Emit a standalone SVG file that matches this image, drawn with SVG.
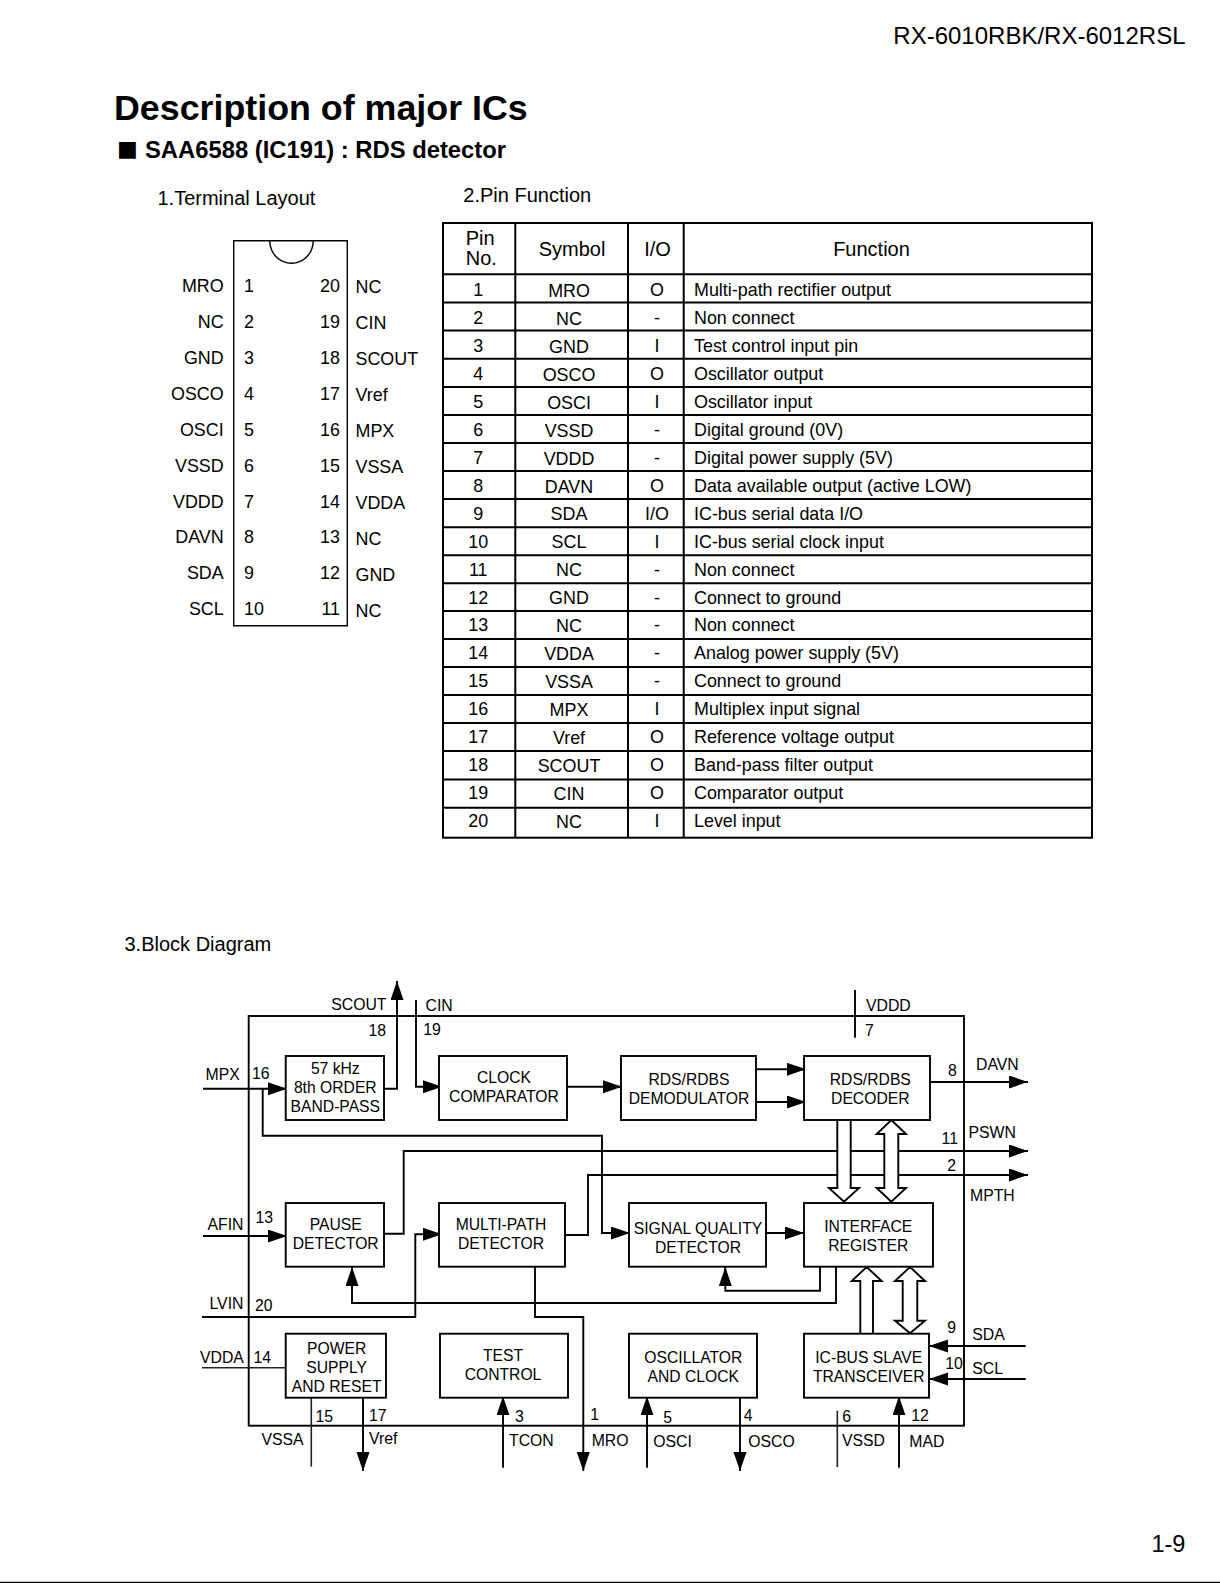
<svg xmlns="http://www.w3.org/2000/svg" width="1220" height="1583" viewBox="0 0 1220 1583">
<style>
text{font-family:"Liberation Sans",Arial,sans-serif;fill:#000}
.t{font-size:17.9px}.h{font-size:20px}.b{font-size:15.7px;text-anchor:middle}.l{font-size:15.8px}
.m{text-anchor:middle}.e{text-anchor:end}
.box{fill:#fff;stroke:#000;stroke-width:1.9}
.c{fill:none;stroke:#000;stroke-width:1.9}
.a{marker-end:url(#ah)}
.thin{fill:none;stroke:#222;stroke-width:1.6}
.hol{fill:#fff;stroke:#000;stroke-width:1.9}
.tl{stroke:#000;stroke-width:2;fill:none}
</style>
<defs>
<marker id="ah" markerUnits="userSpaceOnUse" markerWidth="20" markerHeight="14" refX="19" refY="6.5" orient="auto"><path d="M0,0L19,6.5L0,13z" fill="#000"/></marker>
</defs>
<rect width="1220" height="1583" fill="#fff"/>

<g id="page-text">
<text x="1185.5" y="44.4" class="e" font-size="24">RX-6010RBK/RX-6012RSL</text>
<text x="114" y="120" font-size="35.8" font-weight="bold">Description of major ICs</text>
<text x="117" y="156.2" font-size="22" style="font-family:'DejaVu Sans',sans-serif">■</text>
<text x="145" y="158" font-size="23.8" font-weight="bold">SAA6588 (IC191) : RDS detector</text>
<text x="157.5" y="205" class="h">1.Terminal Layout</text>
<text x="463.3" y="202" class="h">2.Pin Function</text>
<text x="124.5" y="951" class="h">3.Block Diagram</text>
<text x="1185.5" y="1551.7" class="e" font-size="23.6">1-9</text>
<line x1="0" y1="1582.4" x2="1220" y2="1582.4" stroke="#000" stroke-width="1.2"/>
</g>

<g id="terminal-layout">
<path d="M233.7,240.7H347.3V625.8H233.7Z" fill="none" stroke="#000" stroke-width="1.4"/>
<path d="M269.7,240.7C270,254 280,263.3 291.5,263.3C303,263.3 313,254 313.3,240.7" fill="none" stroke="#000" stroke-width="1.4"/>
<g class="t">
<text class="e" x="223.7" y="291.7">MRO</text><text class="e" x="223.7" y="328">NC</text><text class="e" x="223.7" y="363.7">GND</text><text class="e" x="223.7" y="399.7">OSCO</text><text class="e" x="223.7" y="435.7">OSCI</text><text class="e" x="223.7" y="471.7">VSSD</text><text class="e" x="223.7" y="507.7">VDDD</text><text class="e" x="223.7" y="543">DAVN</text><text class="e" x="223.7" y="579">SDA</text><text class="e" x="223.7" y="615">SCL</text>
<text x="244" y="291.7">1</text><text x="244" y="328">2</text><text x="244" y="363.7">3</text><text x="244" y="399.7">4</text><text x="244" y="435.7">5</text><text x="244" y="471.7">6</text><text x="244" y="507.7">7</text><text x="244" y="543">8</text><text x="244" y="579">9</text><text x="244" y="615">10</text>
<text class="e" x="340" y="291.7">20</text><text class="e" x="340" y="328">19</text><text class="e" x="340" y="363.7">18</text><text class="e" x="340" y="399.7">17</text><text class="e" x="340" y="435.7">16</text><text class="e" x="340" y="471.7">15</text><text class="e" x="340" y="507.7">14</text><text class="e" x="340" y="543">13</text><text class="e" x="340" y="579">12</text><text class="e" x="340" y="615">11</text>
<text x="355.5" y="293">NC</text><text x="355.5" y="329">CIN</text><text x="355.5" y="365">SCOUT</text><text x="355.5" y="401">Vref</text><text x="355.5" y="437">MPX</text><text x="355.5" y="473">VSSA</text><text x="355.5" y="509">VDDA</text><text x="355.5" y="545">NC</text><text x="355.5" y="581">GND</text><text x="355.5" y="617">NC</text>
</g>
</g>

<g id="pin-table">
<rect x="443" y="223" width="649" height="614.7" class="tl"/>
<path class="tl" d="M515.3,223V837.7M628,223V837.7M683.7,223V837.7"/>
<path class="tl" d="M443,274.2H1092M443,302.4H1092M443,330.6H1092M443,358.8H1092M443,387H1092M443,415H1092M443,443H1092M443,471H1092M443,499H1092M443,527.2H1092M443,555.2H1092M443,583.2H1092M443,611H1092M443,639H1092M443,667H1092M443,695H1092M443,723H1092M443,751H1092M443,779.4H1092M443,807.7H1092"/>
<g class="h">
<text x="465.7" y="245.3">Pin</text><text x="465.7" y="265">No.</text>
<text class="m" x="572" y="256">Symbol</text><text class="m" x="657.5" y="256">I/O</text><text class="m" x="871.5" y="256">Function</text>
</g>
<g class="t">
<g class="m">
<text x="478.3" y="296">1</text><text x="478.3" y="324">2</text><text x="478.3" y="351.9">3</text><text x="478.3" y="379.9">4</text><text x="478.3" y="407.8">5</text><text x="478.3" y="435.8">6</text><text x="478.3" y="463.7">7</text><text x="478.3" y="491.7">8</text><text x="478.3" y="519.6">9</text><text x="478.3" y="547.6">10</text><text x="478.3" y="575.5">11</text><text x="478.3" y="603.5">12</text><text x="478.3" y="631.4">13</text><text x="478.3" y="659.4">14</text><text x="478.3" y="687.3">15</text><text x="478.3" y="715.3">16</text><text x="478.3" y="743.2">17</text><text x="478.3" y="771.2">18</text><text x="478.3" y="799.1">19</text><text x="478.3" y="827">20</text>
<text x="569" y="296.8">MRO</text><text x="569" y="324.8">NC</text><text x="569" y="352.7">GND</text><text x="569" y="380.7">OSCO</text><text x="569" y="408.6">OSCI</text><text x="569" y="436.6">VSSD</text><text x="569" y="464.5">VDDD</text><text x="569" y="492.5">DAVN</text><text x="569" y="520.4">SDA</text><text x="569" y="548.4">SCL</text><text x="569" y="576.3">NC</text><text x="569" y="604.3">GND</text><text x="569" y="632.2">NC</text><text x="569" y="660.2">VDDA</text><text x="569" y="688.1">VSSA</text><text x="569" y="716.1">MPX</text><text x="569" y="744">Vref</text><text x="569" y="772">SCOUT</text><text x="569" y="799.9">CIN</text><text x="569" y="827.8">NC</text>
<text x="657" y="296">O</text><text x="657" y="324">-</text><text x="657" y="351.9">I</text><text x="657" y="379.9">O</text><text x="657" y="407.8">I</text><text x="657" y="435.8">-</text><text x="657" y="463.7">-</text><text x="657" y="491.7">O</text><text x="657" y="519.6">I/O</text><text x="657" y="547.6">I</text><text x="657" y="575.5">-</text><text x="657" y="603.5">-</text><text x="657" y="631.4">-</text><text x="657" y="659.4">-</text><text x="657" y="687.3">-</text><text x="657" y="715.3">I</text><text x="657" y="743.2">O</text><text x="657" y="771.2">O</text><text x="657" y="799.1">O</text><text x="657" y="827">I</text>
</g>
<text x="694" y="296">Multi-path rectifier output</text><text x="694" y="324">Non connect</text><text x="694" y="351.9">Test control input pin</text><text x="694" y="379.9">Oscillator output</text><text x="694" y="407.8">Oscillator input</text><text x="694" y="435.8">Digital ground (0V)</text><text x="694" y="463.7">Digital power supply (5V)</text><text x="694" y="491.7">Data available output (active LOW)</text><text x="694" y="519.6">IC-bus serial data I/O</text><text x="694" y="547.6">IC-bus serial clock input</text><text x="694" y="575.5">Non connect</text><text x="694" y="603.5">Connect to ground</text><text x="694" y="631.4">Non connect</text><text x="694" y="659.4">Analog power supply (5V)</text><text x="694" y="687.3">Connect to ground</text><text x="694" y="715.3">Multiplex input signal</text><text x="694" y="743.2">Reference voltage output</text><text x="694" y="771.2">Band-pass filter output</text><text x="694" y="799.1">Comparator output</text><text x="694" y="827">Level input</text>
</g>
</g>

<rect id="ic-outline" x="248.7" y="1016" width="715.3" height="409.7" fill="none" stroke="#000" stroke-width="1.9"/>

<g id="connectors">
<path class="c a" d="M203,1088.7H287"/>
<path class="c a" d="M262.7,1088.7V1135.7H602V1233H630"/>
<path class="c a" d="M384,1088.7H397V981"/>
<path class="c a" d="M416,1000V1086.7H442"/>
<path class="c a" d="M567,1086.7H622"/>
<path class="c a" d="M756,1069.3H806"/>
<path class="c a" d="M756,1102H806"/>
<path class="c a" d="M930,1082H1028"/>
<path class="c a" d="M384,1233.7H403.7V1151H1028"/>
<path class="c a" d="M565,1235H588V1175H1028"/>
<path class="c a" d="M203,1236H287"/>
<path class="c a" d="M202,1317H415.3V1234.3H442"/>
<path class="c a" d="M836,1267V1303H352V1267"/>
<path class="c a" d="M820,1267V1290.7H725.3V1267"/>
<path class="c a" d="M535,1267V1317H583.3V1471"/>
<path class="c a" d="M766,1233H804"/>
<path class="c" d="M855,990V1037.7"/>
<path class="c a" d="M1025.7,1346H929"/>
<path class="c a" d="M1025.7,1379H929"/>
<path class="thin" d="M202,1367.7H285.7"/>
<path class="thin" d="M311.3,1397.7V1466.7"/>
<path class="c a" d="M363,1397.7V1471"/>
<path class="c a" d="M503,1467.7V1396.3"/>
<path class="c a" d="M647,1467.7V1396.3"/>
<path class="c a" d="M740,1397.7V1471"/>
<path class="thin" d="M837.3,1410.7V1467"/>
<path class="c a" d="M899,1467.7V1396.3"/>
<path class="hol" d="M837.3,1120V1188H829L844,1201.7L859,1188H850.7V1120"/>
<path class="hol" d="M891.3,1120L906,1134H898.3V1188H906L891.3,1201.7L876.7,1188H884.3V1134H876.7Z"/>
<path class="hol" d="M860.3,1333.7V1281H851.7L866.7,1267L881.7,1281H873V1333.7"/>
<path class="hol" d="M910,1267L925,1281H917.3V1320.7H925L910,1333.3L895,1320.7H902.7V1281H895Z"/>
</g>

<g id="node-bandpass"><rect class="box" x="285.7" y="1056" width="98.3" height="64"/><g class="b"><text x="335.3" y="1074.3">57 kHz</text><text x="335.3" y="1093.3">8th ORDER</text><text x="335.3" y="1112.3">BAND-PASS</text></g></g>
<g id="node-clock-comparator"><rect class="box" x="439" y="1056" width="128" height="64"/><g class="b"><text x="504" y="1083.3">CLOCK</text><text x="504" y="1102.3">COMPARATOR</text></g></g>
<g id="node-demodulator"><rect class="box" x="621" y="1056" width="135" height="64"/><g class="b"><text x="689" y="1085.3">RDS/RDBS</text><text x="689" y="1104.3">DEMODULATOR</text></g></g>
<g id="node-decoder"><rect class="box" x="804" y="1056" width="126" height="64"/><g class="b"><text x="870.3" y="1085.3">RDS/RDBS</text><text x="870.3" y="1104.3">DECODER</text></g></g>
<g id="node-pause"><rect class="box" x="285.7" y="1203" width="98.3" height="63.7"/><g class="b"><text x="335.7" y="1230.3">PAUSE</text><text x="335.7" y="1249.3">DETECTOR</text></g></g>
<g id="node-multipath"><rect class="box" x="439" y="1203" width="126" height="63.7"/><g class="b"><text x="501" y="1230.3">MULTI-PATH</text><text x="501" y="1249.3">DETECTOR</text></g></g>
<g id="node-signal-quality"><rect class="box" x="629" y="1203" width="137" height="63.7"/><g class="b"><text x="698" y="1234.3">SIGNAL QUALITY</text><text x="698" y="1253.3">DETECTOR</text></g></g>
<g id="node-interface"><rect class="box" x="804" y="1203" width="129" height="63.7"/><g class="b"><text x="868.3" y="1231.7">INTERFACE</text><text x="868.3" y="1250.7">REGISTER</text></g></g>
<g id="node-power"><rect class="box" x="285.7" y="1333.7" width="100.3" height="64"/><g class="b"><text x="336.7" y="1354.3">POWER</text><text x="336.7" y="1373.3">SUPPLY</text><text x="336.7" y="1392.3">AND RESET</text></g></g>
<g id="node-test"><rect class="box" x="440" y="1333.7" width="128" height="64"/><g class="b"><text x="503" y="1361.3">TEST</text><text x="503" y="1380.3">CONTROL</text></g></g>
<g id="node-oscillator"><rect class="box" x="629" y="1333.7" width="128" height="64"/><g class="b"><text x="693.3" y="1363.3">OSCILLATOR</text><text x="693.3" y="1382.3">AND CLOCK</text></g></g>
<g id="node-icbus"><rect class="box" x="804" y="1333.7" width="125" height="64"/><g class="b"><text x="868.7" y="1363.3">IC-BUS SLAVE</text><text x="868.7" y="1382.3">TRANSCEIVER</text></g></g>

<g id="pin-labels" class="l" transform="translate(0 0.5)">
<text class="e" x="386.5" y="1009.3">SCOUT</text><text class="e" x="386" y="1035.3">18</text>
<text x="425.5" y="1010">CIN</text><text x="423.3" y="1034">19</text>
<text x="866" y="1010">VDDD</text><text x="865" y="1035.3">7</text>
<text x="205.5" y="1079.3">MPX</text><text x="252" y="1078.3">16</text>
<text x="207.5" y="1229">AFIN</text><text x="255.5" y="1222.7">13</text>
<text x="976" y="1069">DAVN</text><text x="948" y="1075.7">8</text>
<text x="968.5" y="1137">PSWN</text><text class="e" x="958" y="1143.3">11</text>
<text class="e" x="956" y="1170">2</text><text x="970" y="1200">MPTH</text>
<text x="209.5" y="1308.3">LVIN</text><text x="255" y="1310">20</text>
<text x="200" y="1362">VDDA</text><text x="253.5" y="1362">14</text>
<text x="315.5" y="1421.3">15</text><text x="369" y="1420.3">17</text>
<text x="261.5" y="1444">VSSA</text><text x="369" y="1443">Vref</text>
<text x="515" y="1421">3</text><text x="509" y="1445.3">TCON</text>
<text x="590.3" y="1419">1</text><text x="591.7" y="1445.3">MRO</text>
<text x="663.3" y="1422">5</text><text x="653.3" y="1446">OSCI</text>
<text x="743.7" y="1420">4</text><text x="748.3" y="1446">OSCO</text>
<text x="842.3" y="1421.7">6</text><text x="842" y="1445.3">VSSD</text>
<text x="911.3" y="1420">12</text><text x="909.3" y="1446">MAD</text>
<text x="947.3" y="1332">9</text><text x="972.3" y="1339">SDA</text>
<text x="945.3" y="1368.3">10</text><text x="972.3" y="1373.3">SCL</text>
</g>
</svg>
